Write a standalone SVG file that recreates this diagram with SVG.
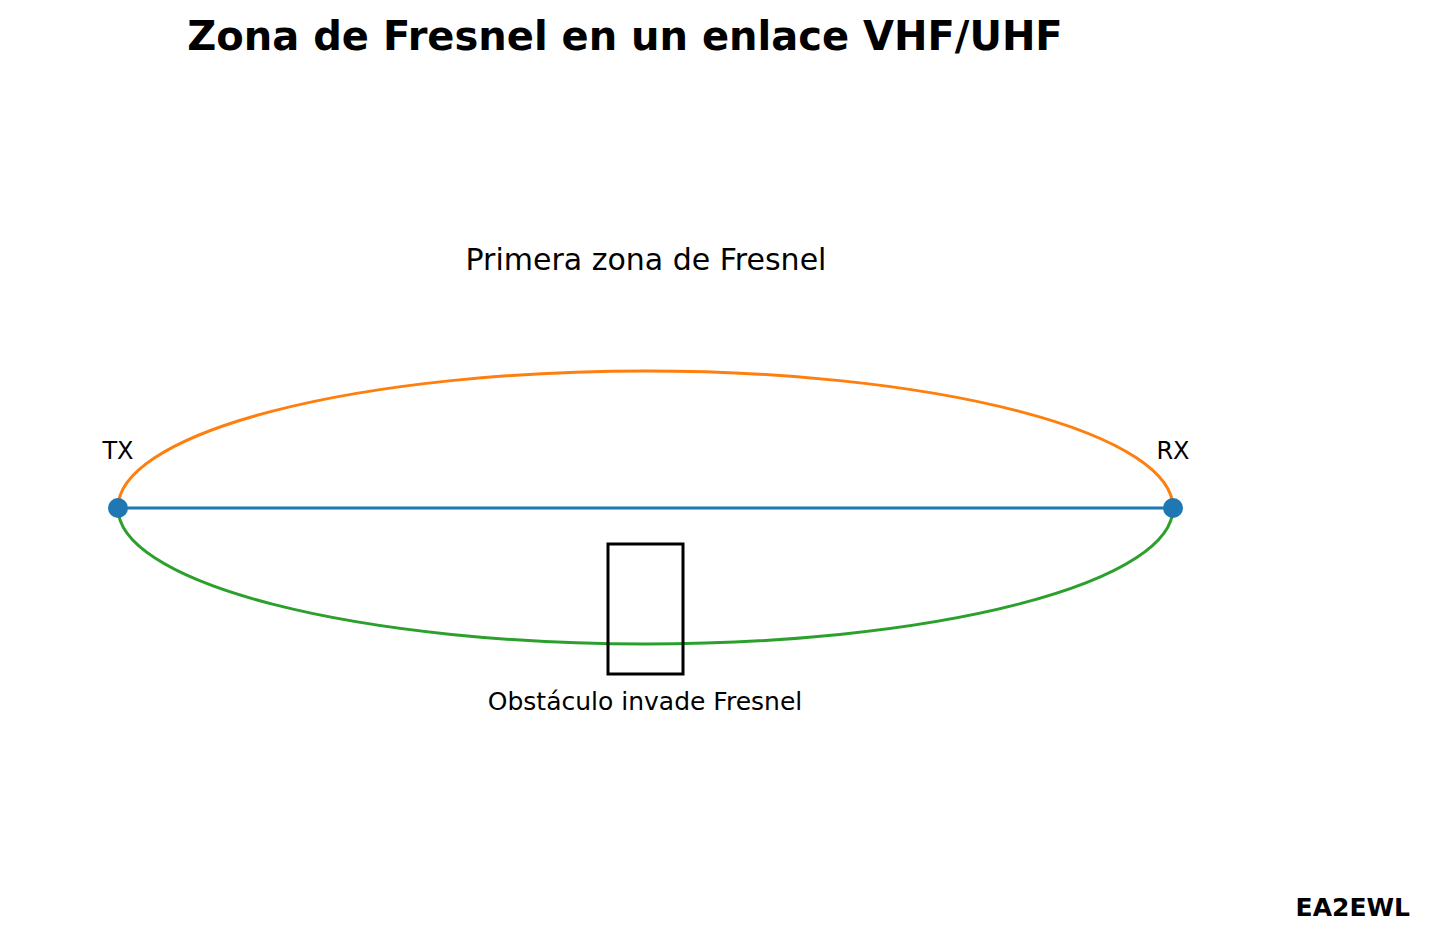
<svg xmlns="http://www.w3.org/2000/svg" width="1429" height="939" viewBox="0 0 1429 939">
<style>
text{font-family:"DejaVu Sans",sans-serif;fill:#000}
.l{font-size:24px;text-anchor:middle}
</style>
<rect width="1429" height="939" fill="#fff"/>
<text x="625" y="50" font-size="40" font-weight="bold" text-anchor="middle">Zona de Fresnel en un enlace VHF/UHF</text>
<text x="646" y="270" font-size="30" text-anchor="middle">Primera zona de Fresnel</text>
<g id="connectors" fill="none" stroke-width="3">
<path d="M118,508 A527.5,137 0 0 1 1173,508" stroke="#ff7f0e"/>
<path d="M118,508 A527.5,136 0 0 0 1173,508" stroke="#2ca02c"/>
<line x1="118" y1="508" x2="1173" y2="508" stroke="#1f77b4"/>
</g>
<g id="tx"><circle cx="118" cy="508" r="10" fill="#1f77b4"/><text class="l" x="118" y="459">TX</text></g>
<g id="rx"><circle cx="1173" cy="508" r="10" fill="#1f77b4"/><text class="l" x="1173" y="459">RX</text></g>
<g id="obstacle"><rect x="608" y="544" width="75" height="130" fill="none" stroke="#000" stroke-width="3"/><text x="645" y="710" font-size="25" text-anchor="middle">Obstáculo invade Fresnel</text></g>
<text x="1410" y="916" font-size="25" font-weight="bold" text-anchor="end">EA2EWL</text>
</svg>
